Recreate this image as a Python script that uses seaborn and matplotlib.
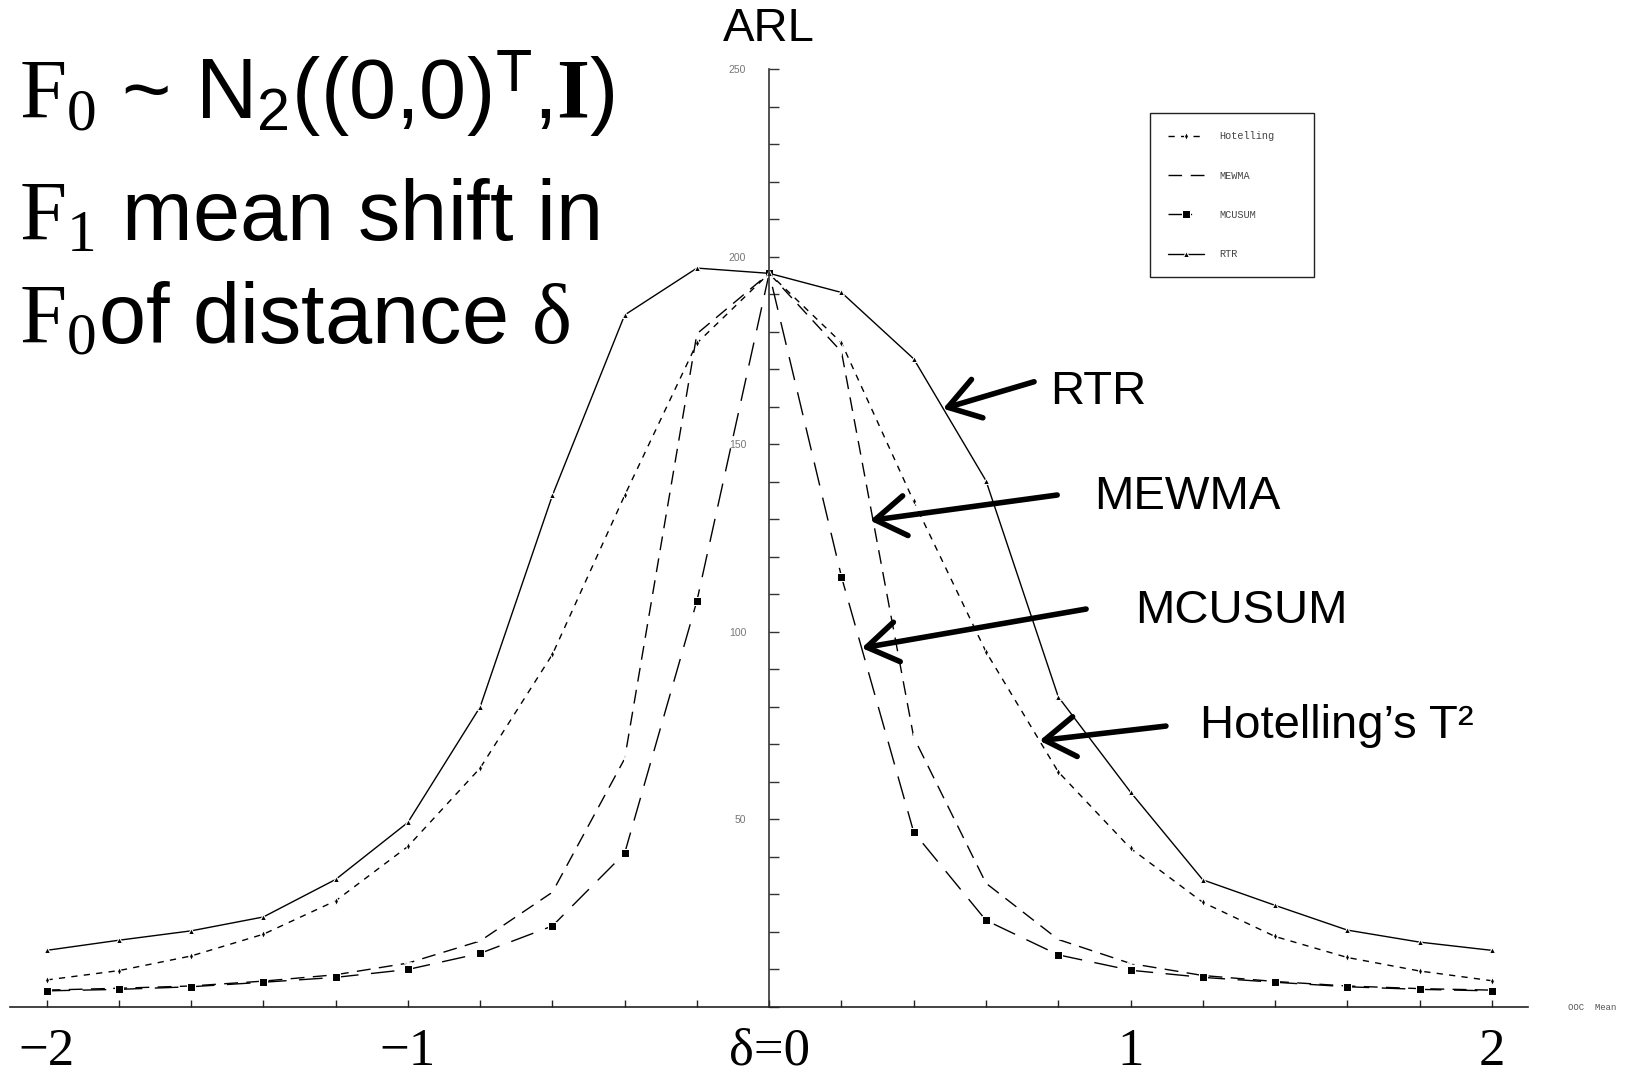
import matplotlib
matplotlib.use("Agg")
import matplotlib.pyplot as plt
from matplotlib.ticker import MultipleLocator, FixedLocator, FixedFormatter
import seaborn as sns
import pandas as pd

# ---------------- data ----------------
delta = [-2.0, -1.8, -1.6, -1.4, -1.2, -1.0, -0.8, -0.6, -0.4, -0.2, 0.0,
         0.2, 0.4, 0.6, 0.8, 1.0, 1.2, 1.4, 1.6, 1.8, 2.0]
arl_rtr = [15.1, 17.8, 20.3, 24.0, 34.0, 49.2, 80.0, 136.4, 184.5, 197.0, 195.6,
           190.5, 172.8, 140.3, 82.7, 57.3, 33.9, 27.1, 20.5, 17.3, 15.1]
arl_hotelling = [7.2, 9.7, 13.6, 19.4, 28.3, 42.8, 63.7, 94.0, 136.4, 177.0, 195.6,
                 177.1, 134.8, 94.7, 62.7, 42.3, 27.9, 18.8, 13.2, 9.6, 7.0]
arl_mewma = [4.5, 5.0, 5.6, 6.9, 8.6, 11.7, 17.6, 30.6, 66.2, 179.5, 195.6,
             174.7, 71.9, 33.0, 18.0, 11.6, 8.4, 6.8, 5.6, 4.9, 4.5]
arl_mcusum = [4.3, 4.7, 5.4, 6.6, 7.9, 10.0, 14.3, 21.6, 41.0, 108.3, 195.6,
              114.7, 46.6, 23.1, 13.9, 9.8, 7.9, 6.6, 5.4, 4.7, 4.3]
series_names = ["Hotelling", "MEWMA", "MCUSUM", "RTR"]
y_ticks = [50, 100, 150, 200, 250]
x_tick_pos = [-2, -1, 0, 1, 2]
x_tick_labels = ["\u22122", "\u22121", "\u03b4=0", "1", "2"]

# ---------------- style ----------------
sns.set_theme(style="white")
plt.rcParams["font.family"] = ["Liberation Sans", "DejaVu Sans"]
plt.rcParams["text.color"] = "black"
plt.rcParams["mathtext.fontset"] = "custom"
plt.rcParams["mathtext.rm"] = "Liberation Serif"
plt.rcParams["mathtext.bf"] = "Liberation Serif:bold"
plt.rcParams["mathtext.sf"] = "Liberation Sans"
plt.rcParams["mathtext.it"] = "Liberation Serif:italic"

W, H = 1633, 1073
fig = plt.figure(figsize=(W / 100, H / 100), dpi=100)
fig.patch.set_facecolor("white")


def fx(px):
    return px / W


def fy(py):
    return 1 - py / H


ax_left, ax_right = 10.4, 1528.0
ax_top, ax_bottom = 69.3, 1007.0
ax = fig.add_axes([fx(ax_left), fy(ax_bottom), fx(ax_right - ax_left), (ax_bottom - ax_top) / H])
ax.set_facecolor("none")

df = pd.DataFrame({
    "delta": delta,
    "Hotelling": arl_hotelling,
    "MEWMA": arl_mewma,
    "MCUSUM": arl_mcusum,
    "RTR": arl_rtr,
})

styles = {
    "Hotelling": dict(linestyle=(0, (4.5, 4.5)), marker="d", markersize=3.8),
    "MEWMA": dict(linestyle=(0, (10, 6)), marker="+", markersize=5.5, markeredgewidth=1.2),
    "MCUSUM": dict(linestyle=(0, (17, 9)), marker="s", markersize=5.8),
    "RTR": dict(linestyle="-", marker="^", markersize=3.8),
}
for name in series_names:
    sns.lineplot(data=df, x="delta", y=name, ax=ax, color="black", linewidth=1.0,
                 label=name, **styles[name])

ax.set_xlim(-2.1, 2.1)
ax.set_ylim(0, 250)
ax.set_xlabel("")
ax.set_ylabel("")

for s in ["top", "right"]:
    ax.spines[s].set_visible(False)
ax.spines["left"].set_position(("data", 0))
ax.spines["left"].set_color("#333333")
ax.spines["bottom"].set_color("#222222")
ax.spines["left"].set_linewidth(1.2)
ax.spines["bottom"].set_linewidth(1.2)

# y ticks
ax.yaxis.set_major_locator(FixedLocator(y_ticks))
ax.yaxis.set_minor_locator(MultipleLocator(10))
ax.tick_params(axis="y", which="both", direction="in", length=7, width=1.0,
               color="#333333", left=True, right=False, pad=16.5,
               labelsize=7.5, labelcolor="#777777")
# x ticks
ax.xaxis.set_major_locator(FixedLocator(x_tick_pos))
ax.xaxis.set_major_formatter(FixedFormatter(x_tick_labels))
ax.xaxis.set_minor_locator(MultipleLocator(0.2))
ax.tick_params(axis="x", which="both", direction="in", length=5, width=1.0,
               color="#222222", bottom=True, top=False)
ax.tick_params(axis="x", which="major", pad=15, labelsize=38, labelcolor="black")
for lab in ax.get_xticklabels():
    lab.set_family("Liberation Serif")

# legend
handles, labels = ax.get_legend_handles_labels()
leg = ax.legend(handles, labels, loc="upper left",
                bbox_to_anchor=((1150 - ax_left) / (ax_right - ax_left),
                                1 - (113.3 - ax_top) / (ax_bottom - ax_top),
                                164.3 / (ax_right - ax_left), 0.0),
                mode="expand", borderaxespad=0, fancybox=False, framealpha=1,
                edgecolor="#222222", prop={"family": "Liberation Mono", "size": 7.4},
                handlelength=3.5, handletextpad=1.5, labelspacing=2.85,
                borderpad=1.75)
leg.get_frame().set_linewidth(1.0)
for t in leg.get_texts():
    t.set_color("#444444")

# arrows and annotation labels (data coordinates)
arrows = [
    ("RTR", (0.481, 159.5), (0.733, 166.7), (0.777, 164.0)),
    ("MEWMA", (0.279, 129.7), (0.797, 136.5), (0.899, 136.0)),
    ("MCUSUM", (0.256, 95.7), (0.877, 106.1), (1.012, 105.6)),
    ("Hotelling\u2019s T\u00b2", (0.748, 71.0), (1.098, 74.9), (1.192, 74.9)),
]
for text, head, tail, tpos in arrows:
    ax.annotate("", xy=head, xytext=tail,
                arrowprops=dict(arrowstyle="->,head_length=0.55,head_width=0.36",
                                lw=4.0, color="black", mutation_scale=40,
                                shrinkA=0, shrinkB=0))
    ax.text(tpos[0], tpos[1], text, fontsize=34, ha="left", va="center",
            color="black", family="Liberation Sans")

# axis labels
fig.text(fx(769), fy(29), "ARL", fontsize=34, ha="center", va="center", color="black")
fig.text(fx(1568), fy(1007), "OOC  Mean", fontsize=6.5, ha="left", va="center",
         family="Liberation Mono", color="#555555")

# big description text
big = 61
line1 = r"$\mathrm{F}_{\mathrm{0}}$ ~ N$_{\mathsf{2}}$((0,0)$^{\mathsf{T}}$,$\mathbf{I}$)"
line2 = r"$\mathrm{F}_{\mathrm{1}}$ mean shift in"
line3 = r"$\mathrm{F}_{\mathrm{0}}$of distance $\mathrm{" + "\u03b4" + r"}$"
fig.text(fx(19), fy(119), line1, fontsize=big, ha="left", va="baseline", color="black")
fig.text(fx(19), fy(240), line2, fontsize=big, ha="left", va="baseline", color="black")
fig.text(fx(19), fy(343), line3, fontsize=big, ha="left", va="baseline", color="black")

fig.savefig("out.png", dpi=100, facecolor="white")
